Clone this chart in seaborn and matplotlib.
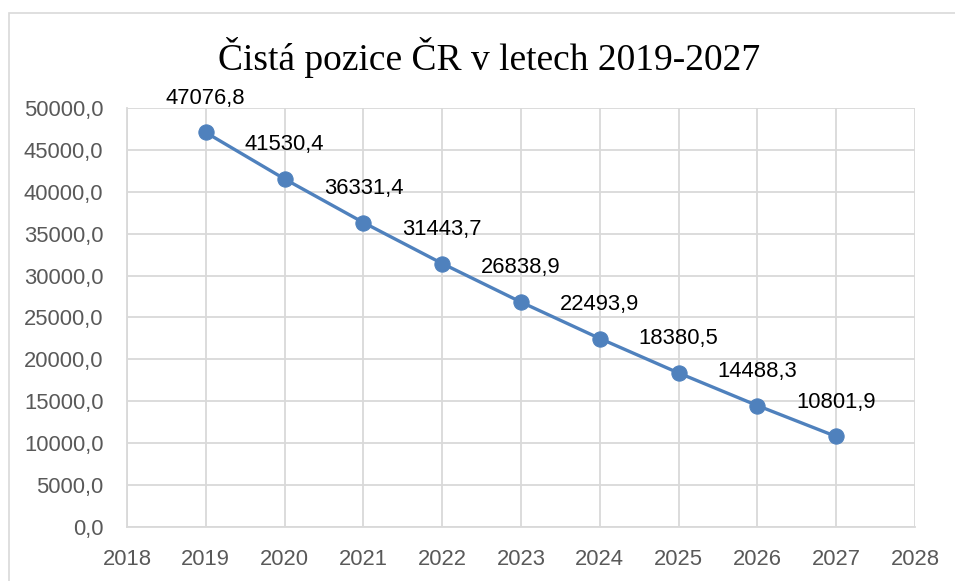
import matplotlib
matplotlib.use("Agg")
import matplotlib.pyplot as plt
import seaborn as sns
import pandas as pd
from matplotlib.patches import Rectangle
from matplotlib.ticker import FuncFormatter, MultipleLocator

# data
years = [2019, 2020, 2021, 2022, 2023, 2024, 2025, 2026, 2027]
pozice = [47076.8, 41530.4, 36331.4, 31443.7, 26838.9, 22493.9, 18380.5, 14488.3, 10801.9]
title = "Čistá pozice ČR v letech 2019-2027"

df = pd.DataFrame({"rok": years, "pozice": pozice})

sns.set_style("white")
plt.rcParams['font.family'] = ['Liberation Sans', 'DejaVu Sans']

fig = plt.figure(figsize=(9.55, 5.81), dpi=100)
ax = fig.add_axes([127 / 955, 54 / 581, 788 / 955, 419 / 581])

# outer chart frame (cut off at right and bottom like the screenshot)
fig.patches.append(Rectangle((9 / 955, -0.1), 2.0, (581 - 13) / 581 + 0.1, transform=fig.transFigure,
                             fill=False, edgecolor="#D9D9D9", linewidth=1.2, zorder=0))

blue = "#4F81BD"
sns.lineplot(data=df, x="rok", y="pozice", ax=ax, color=blue, linewidth=2.4,
             marker="o", markersize=11, markeredgecolor=blue, zorder=3)

for x, y in zip(years, pozice):
    ax.annotate(f"{y:.1f}".replace(".", ","), (x, y), xytext=(0, 17), textcoords="offset points",
                ha="center", va="bottom", fontsize=15.8, color="black")

ax.set_xlim(2018, 2028)
ax.set_ylim(0, 50000)
ax.xaxis.set_major_locator(MultipleLocator(1))
ax.yaxis.set_major_locator(MultipleLocator(5000))
ax.yaxis.set_major_formatter(FuncFormatter(lambda v, p: f"{v:.1f}".replace(".", ",")))
ax.xaxis.set_major_formatter(FuncFormatter(lambda v, p: f"{int(v)}"))

ax.grid(True, color="#D9D9D9", linewidth=1.3)
ax.set_axisbelow(True)
for s in ["top", "right"]:
    ax.spines[s].set_visible(False)
for s in ["left", "bottom"]:
    ax.spines[s].set_color("#D9D9D9")
    ax.spines[s].set_linewidth(1.3)

ax.tick_params(axis="both", length=0, labelsize=15.8, labelcolor="#595959")
ax.tick_params(axis="y", pad=17)
ax.tick_params(axis="x", pad=16)
ax.set_xlabel("")
ax.set_ylabel("")

fig.text(489 / 955, 1 - 58 / 581, title, ha="center", va="center", fontsize=27,
         family=["Liberation Serif", "DejaVu Serif"], color="black")

fig.savefig("out.png", dpi=100)
